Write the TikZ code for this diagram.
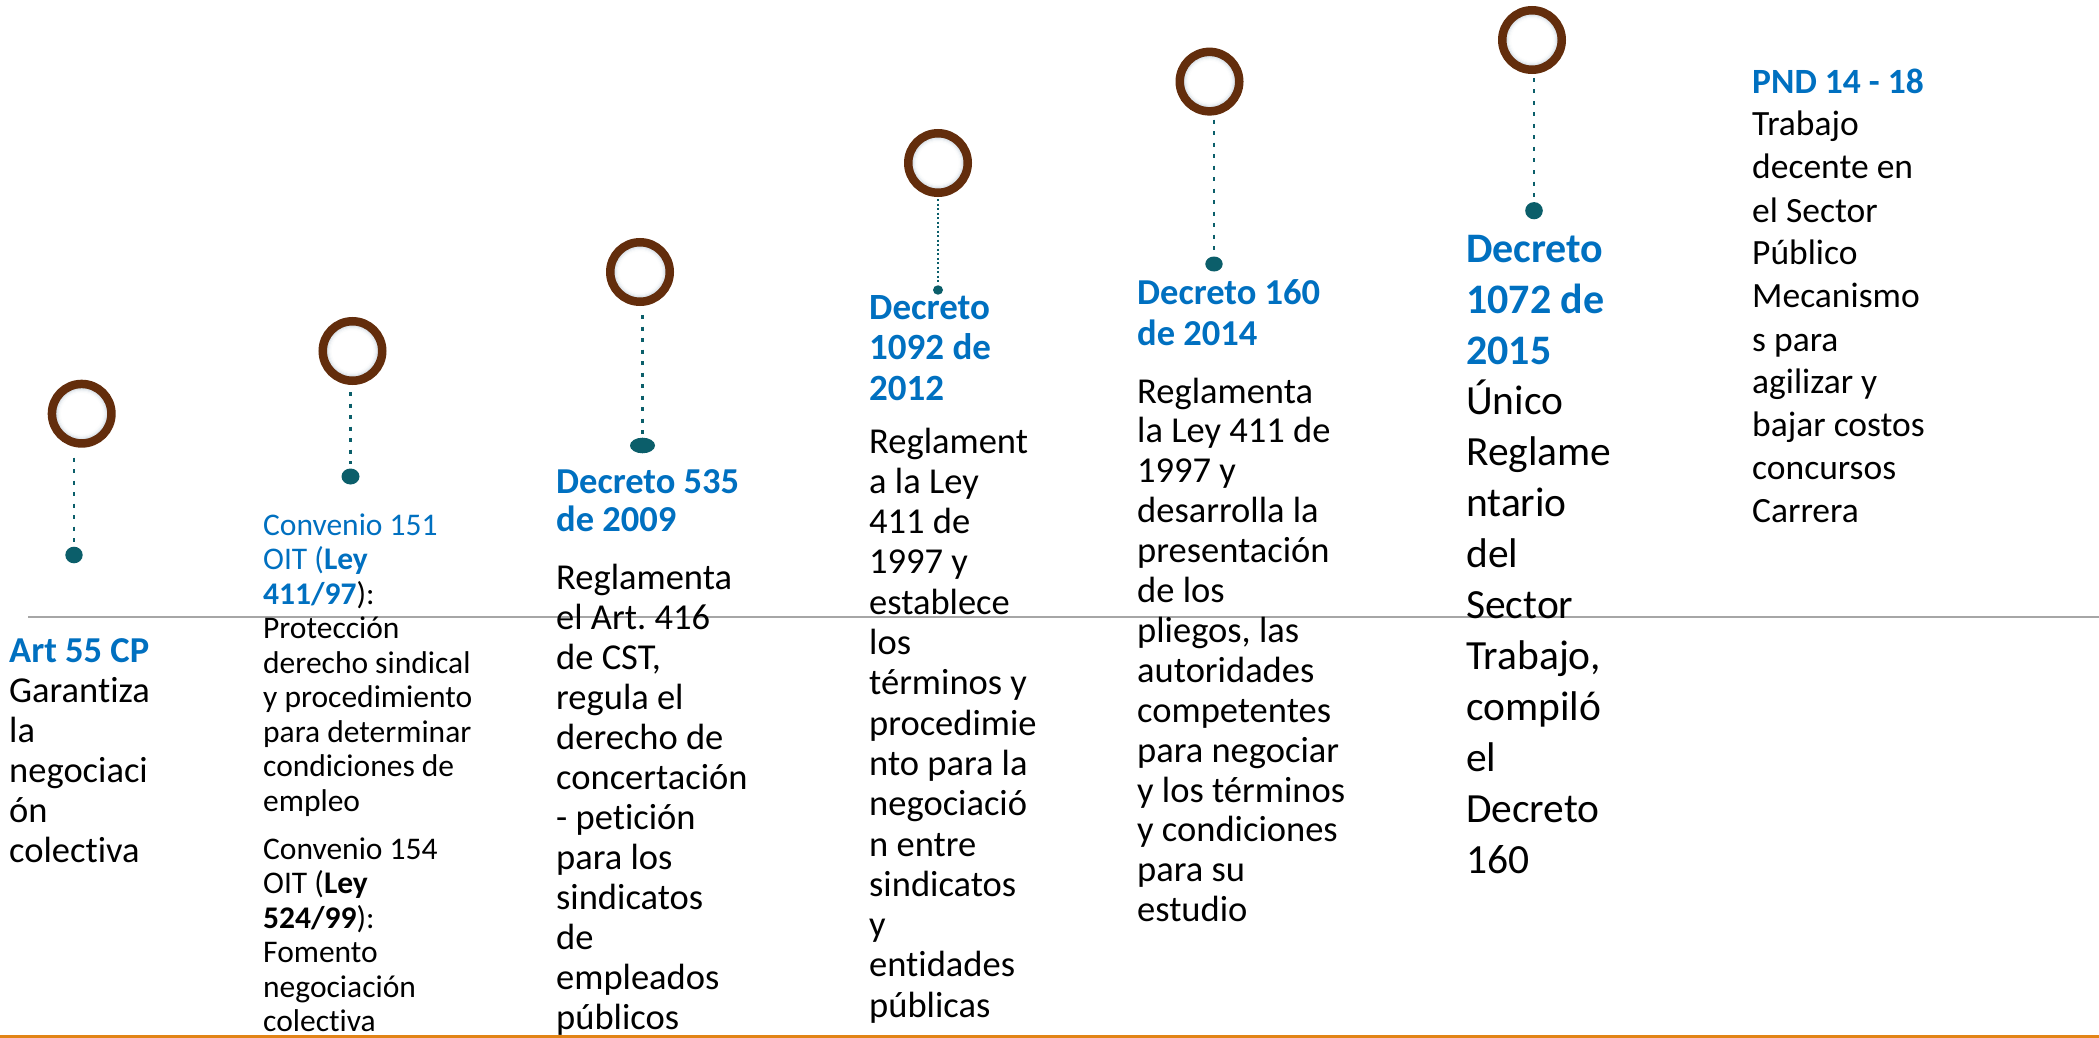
\documentclass[tikz,border=0pt]{standalone}
\usepackage{fontspec}
\setmainfont{Carlito}[Ligatures=NoCommon]
\frenchspacing
\usetikzlibrary{shapes.geometric}
\definecolor{hblue}{RGB}{0,112,192}
\definecolor{ringbrown}{RGB}{99,45,12}
\definecolor{dotteal}{RGB}{11,94,106}
\definecolor{rulegrey}{RGB}{166,166,166}
\definecolor{ruleorange}{RGB}{226,132,22}
\definecolor{glow}{RGB}{170,188,202}
\tikzset{
  ring/.style={circle, draw=ringbrown, line width=8.5pt, fill=white, minimum size=59.5pt, inner sep=0pt,
    path picture={
      \foreach \r/\c in {25.5/55,24.5/38,23.5/24,22.5/12,21.5/5}{
        \draw[glow!\c!white, line width=1.1pt] (path picture bounding box.center) circle (\r pt);
      }
    }},
  tdot/.style={ellipse, fill=dotteal, inner sep=0pt},
  conn/.style={draw=dotteal, line width=2.7pt, dash pattern=on 4pt off 7.5pt},
  fineconn/.style={draw=dotteal, line width=1.6pt, dash pattern=on 2pt off 2.5pt},
  txt/.style={anchor=base west, inner sep=0pt, align=left, text width=420pt,
    execute at begin node={\spaceskip=\fontdimen2\font\relax\xspaceskip=\fontdimen2\font\relax}},
  head/.style={txt, text=hblue, font=\bfseries},
}
\begin{document}
\begin{tikzpicture}[x=1pt, y=-1pt]
\path[use as bounding box, fill=white] (0,0) rectangle (2099,1038);
% rules
\coordinate (gl) at (28,617.3);
\coordinate (gr) at (2099,617.3);
\draw[rulegrey, line width=2pt] (gl) -- (gr);
\coordinate (ol) at (0,1036.5);
\coordinate (or) at (2099,1036.5);
\draw[ruleorange, line width=3pt] (ol) -- (or);

% circles
\node[ring] (c1) at (81.7,413.7) {};
\node[ring] (c2) at (352.5,351) {};
\node[ring] (c3) at (640,272) {};
\node[ring] (c4) at (938,163) {};
\node[ring] (c5) at (1209.5,81.6) {};
\node[ring] (c6) at (1532,40) {};

% dots
\node[tdot, minimum width=17.4pt, minimum height=16.6pt] (d1) at (74,555) {};
\node[tdot, minimum width=18pt, minimum height=16pt] (d2) at (350.5,476.5) {};
\node[tdot, minimum width=25pt, minimum height=15.6pt] (d3) at (642.5,445.5) {};
\node[tdot, minimum width=10pt, minimum height=9.4pt] (d4) at (938,290) {};
\node[tdot, minimum width=17.4pt, minimum height=15pt] (d5) at (1214,264) {};
\node[tdot, minimum width=17.6pt, minimum height=17.2pt] (d6) at (1534,210.7) {};

% connectors
\draw[conn, shorten <=10pt, shorten >=4pt] (c1.south -| d1) -- (d1.north);
\draw[conn, shorten <=7pt, shorten >=4pt] (c2.south -| d2) -- (d2.north);
\draw[conn, shorten <=9pt, shorten >=4pt] (c3.south -| d3) -- (d3.north);
\draw[fineconn, shorten <=2pt, shorten >=1pt] (c4.south -| d4) -- (d4.north);
\draw[conn, shorten <=4pt, shorten >=4pt] (c5.south -| d5) -- (d5.north);
\draw[conn, shorten <=4pt, shorten >=4pt] (c6.south -| d6) -- (d6.north);

% column 1
\node[head, font=\bfseries\fontsize{36.5pt}{40pt}\selectfont] (h1) at (9,662) {Art 55 CP};
\node[txt, font=\fontsize{36.5pt}{40pt}\selectfont] (b1) at (9,702)
  {Garantiza\\la\\negociaci\\ón\\colectiva};

% column 2
\node[txt, font=\fontsize{31.5pt}{34.5pt}\selectfont] (b2) at (263,535)
  {\textcolor{hblue}{Convenio 151}\\
   \textcolor{hblue}{OIT (\textbf{Ley}}\\
   \textcolor{hblue}{\textbf{411/97}}):\\
   Protección\\derecho sindical\\y procedimiento\\para determinar\\condiciones de\\empleo\\[13.5pt]
   Convenio 154\\OIT (\textbf{Ley}\\\textbf{524/99}):\\Fomento\\negociación\\colectiva};

% column 3
\node[head, font=\bfseries\fontsize{36.5pt}{38.5pt}\selectfont] (h3) at (556,493) {Decreto 535\\de 2009};
\node[txt, font=\fontsize{36.5pt}{40pt}\selectfont] (b3) at (556,589)
  {Reglamenta\\el Art. 416\\de CST,\\regula el\\derecho de\\concertación\\- petición\\para los\\sindicatos\\de\\empleados\\públicos};

% column 4
\node[head, font=\bfseries\fontsize{37pt}{40.5pt}\selectfont] (h4) at (869,319) {Decreto\\1092 de\\2012};
\node[txt, font=\fontsize{36.5pt}{40.3pt}\selectfont] (b4) at (869,453)
  {Reglament\\a la Ley\\411 de\\1997 y\\establece\\los\\términos y\\procedimie\\nto para la\\negociació\\n entre\\sindicatos\\y\\entidades\\públicas};

% column 5
\node[head, font=\bfseries\fontsize{36.5pt}{41.5pt}\selectfont] (h5) at (1137,304) {Decreto 160\\de 2014};
\node[txt, font=\fontsize{36.5pt}{39.9pt}\selectfont] (b5) at (1137,403)
  {Reglamenta\\la Ley 411 de\\1997 y\\desarrolla la\\presentación\\de los\\pliegos, las\\autoridades\\competentes\\para negociar\\y los términos\\y condiciones\\para su\\estudio};

% column 6
\node[head, font=\bfseries\fontsize{42pt}{51pt}\selectfont] (h6) at (1466,262) {Decreto\\1072 de\\2015};
\node[txt, font=\fontsize{41.5pt}{51pt}\selectfont] (b6) at (1466,414)
  {Único\\Reglame\\ntario\\del\\Sector\\Trabajo,\\compiló\\el\\Decreto\\160};

% column 7
\node[head, font=\bfseries\fontsize{35.5pt}{43pt}\selectfont] (h7) at (1752,94) {PND 14 - 18};
\node[txt, font=\fontsize{35.5pt}{43pt}\selectfont] (b7) at (1752,136)
  {Trabajo\\decente en\\el Sector\\Público\\Mecanismo\\s para\\agilizar y\\bajar costos\\concursos\\Carrera};
\end{tikzpicture}
\end{document}
